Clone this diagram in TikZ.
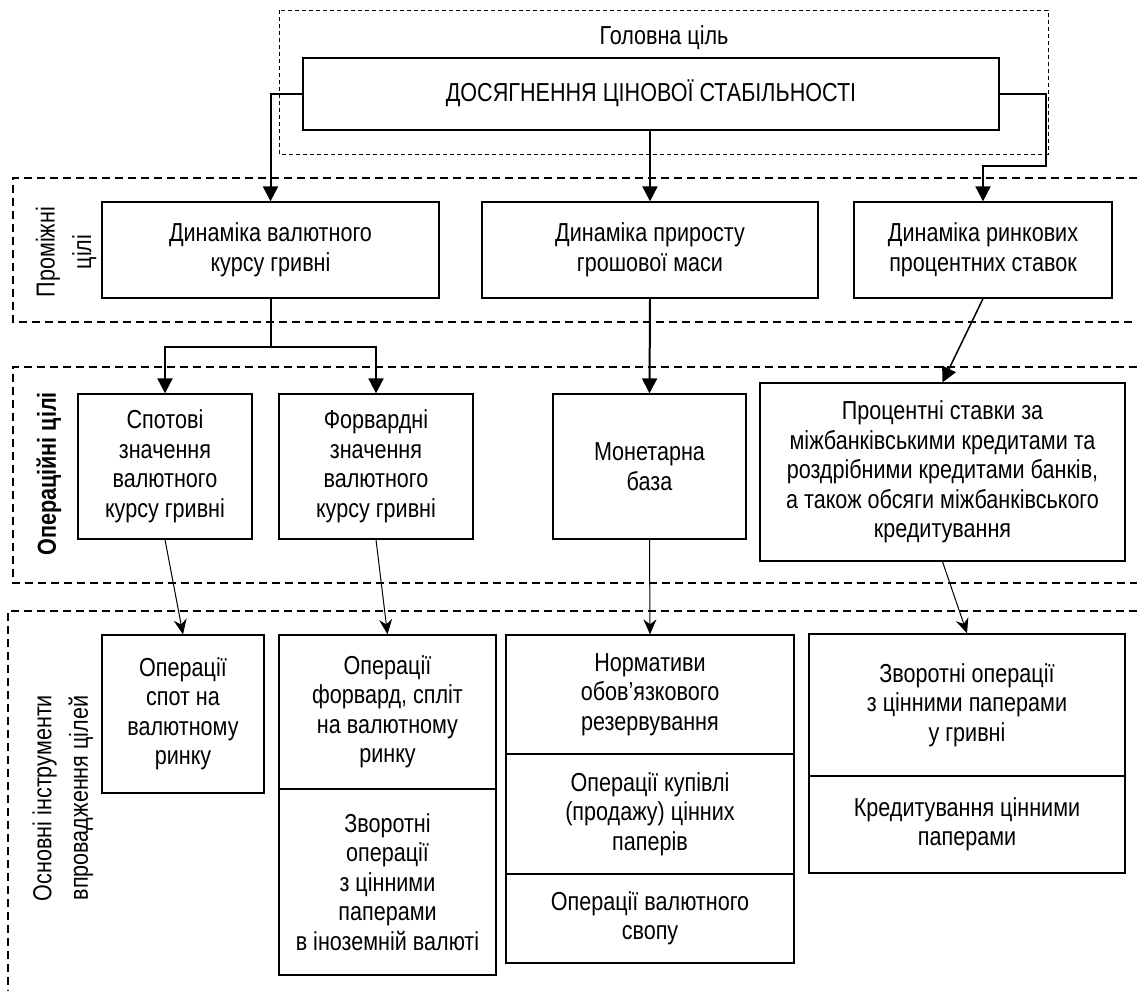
\documentclass[tikz,border=0pt]{standalone}
\usepackage{fontspec}
\setmainfont{Liberation Sans}[FakeStretch=0.83]
\usetikzlibrary{arrows.meta}
\newcommand\diagfont{\fontsize{26}{29.5}\selectfont}

\begin{document}
\begin{tikzpicture}[x=1pt,y=-1pt,line join=miter,font=\diagfont,
  box/.style={draw,line width=1.3pt,align=center,inner sep=0pt},
  zone/.style={line width=1.6pt,dash pattern=on 8pt off 5pt},
  main/.style={-{Triangle[length=15pt,width=15pt]},line width=2pt},
  sub/.style={-{Stealth[length=15pt,width=13pt,inset=5pt]},line width=1pt}]
\useasboundingbox (0,0) rectangle (1137,991);
\draw[line width=1pt,dash pattern=on 4pt off 3pt] (279,10) rectangle (1048,154);
\draw[zone] (1137,178) -- (13,178) -- (13,322) -- (1137,322);
\draw[zone] (1137,367) -- (13,367) -- (13,583) -- (1137,583);
\draw[zone] (1137,611) -- (8,611) -- (8,991);
\node (goaltitle) at (664,38) {Головна ціль};
\node[box,minimum width=696pt,minimum height=72pt] (goal) at (651,94) {\raisebox{6pt}{ДОСЯГНЕННЯ ЦІНОВОЇ СТАБІЛЬНОСТІ}};
\node[rotate=90,align=center] (midlab) at (66,252) {Проміжні\\[7pt]цілі};
\node[rotate=90,font=\diagfont\bfseries] (oplab) at (49,474) {Операційні цілі};
\node[rotate=90,align=center] (toollab) at (63,798) {Основні інструменти\\[7pt]впровадження цілей};
\node[box,minimum width=337pt,minimum height=96pt] (fx) at (270.5,250) {Динаміка валютного\\курсу гривні};
\node[box,minimum width=336pt,minimum height=96pt] (money) at (650,250) {Динаміка приросту\\грошової маси};
\node[box,minimum width=258pt,minimum height=96pt] (rates) at (983,250) {Динаміка ринкових\\процентних ставок};
\node[box,minimum width=174pt,minimum height=145pt] (spot) at (165,466.5) {Спотові\\значення\\валютного\\курсу гривні};
\node[box,minimum width=194pt,minimum height=145pt] (fwd) at (376,466.5) {Форвардні\\значення\\валютного\\курсу гривні};
\node[box,minimum width=193pt,minimum height=145pt] (base) at (649.5,466.5) {Монетарна\\база};
\node[box,minimum width=365pt,minimum height=178pt] (ibank) at (942.5,472) {Процентні ставки за\\міжбанківськими кредитами та\\роздрібними кредитами банків,\\а також обсяги міжбанківського\\кредитування};
\node[box,minimum width=162pt,minimum height=158pt] (opspot) at (183,714) {Операції\\спот на\\валютному\\ринку};
\node[box,minimum width=217pt,minimum height=154pt] (opfwd) at (387.5,712) {Операції\\форвард, спліт\\на валютному\\ринку};
\node[box,minimum width=217pt,minimum height=186pt] (repofx) at (387.5,882) {Зворотні\\операції\\з цінними\\паперами\\в іноземній валюті};
\node[box,minimum width=288pt,minimum height=119pt] (reserve) at (650,694.5) {Нормативи\\обов’язкового\\резервування};
\node[box,minimum width=288pt,minimum height=120pt] (outright) at (650,814) {Операції купівлі\\(продажу) цінних\\паперів};
\node[box,minimum width=288pt,minimum height=89pt] (swap) at (650,918.5) {Операції валютного\\свопу};
\node[box,minimum width=316pt,minimum height=142pt] (repouah) at (967,705) {Зворотні операції\\з цінними паперами\\у гривні};
\node[box,minimum width=316pt,minimum height=97pt] (lending) at (967,824.5) {Кредитування цінними\\паперами};
\coordinate (turn) at (1046,166);
\coordinate (fork) at (270.5,347);
\draw[main] (goal.west) -| (fx.north);
\draw[main] (money.north |- goal.south) -- (money.north);
\draw[main] (goal.east) -| (turn) -| (rates.north);
\draw[line width=2pt] (fx.south) -- (fork);
\draw[main] (fork) -| (spot.north);
\draw[main] (fork) -| (fwd.north);
\draw[main] (money.south) -- (base.north);
\draw[main,line width=1.5pt] (rates.south) -- (ibank.north);
\foreach \a/\b in {spot/opspot,fwd/opfwd,base/reserve,ibank/repouah}
  {\draw[sub] (\a.south) -- (\b.north);}
\end{tikzpicture}
\end{document}
